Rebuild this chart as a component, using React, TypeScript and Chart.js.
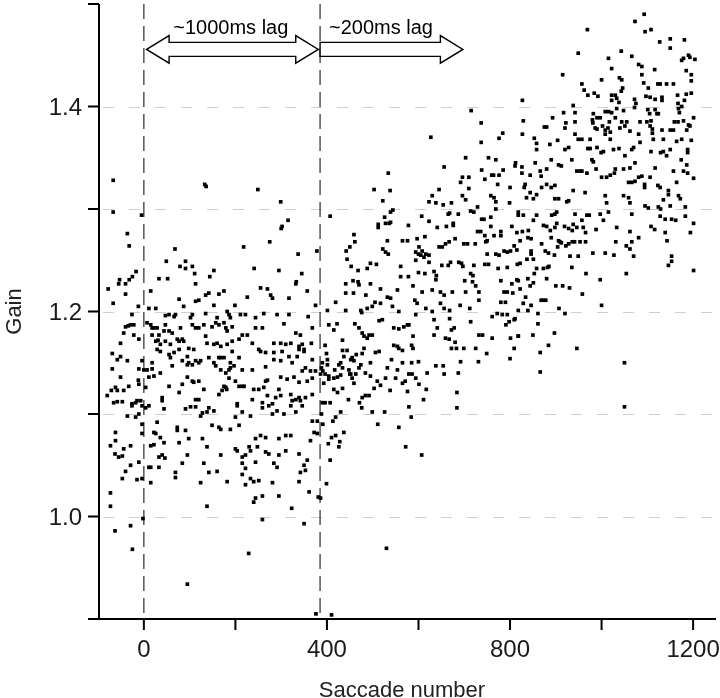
import React, { useEffect, useRef } from "react";
import { Chart, registerables } from "chart.js";

Chart.register(...registerables);

// [saccade number, gain]
const baselinePts: number[][] = [
  [-67,1.328],[-67,1.297],[-5,1.294],[-36,1.276],[-32,1.264],[-17,1.239],[-25,1.234],[-53,1.231],[-32,1.231],
  [-78,1.222],[-55,1.227],[-40,1.227],[-40,1.217],[-67,1.208],[-12,1.205],[-26,1.197],[-40,1.185],[-34,1.186],
  [-29,1.187],[-22,1.187],[-44,1.179],[-22,1.177],[-51,1.169],[-11,1.173],[-69,1.159],[-58,1.153],[-51,1.156],
  [-36,1.152],[-4,1.152],[-69,1.144],[-11,1.144],[-51,1.136],[-12,1.133],[-80,1.118],[-71,1.123],[-62,1.126],
  [-58,1.123],[-44,1.123],[-33,1.127],[-11,1.129],[-66,1.111],[-58,1.112],[-47,1.112],[-26,1.110],[-18,1.111],
  [-15,1.113],[-7,1.113],[-4,1.108],[-36,1.098],[-26,1.108],[-18,1.097],[-11,1.100],[-4,1.090],[-62,1.082],
  [-62,1.074],[-4,1.081],[-73,1.069],[-44,1.066],[-29,1.069],[-63,1.061],[-55,1.058],[-47,1.059],[-29,1.050],
  [-11,1.053],[-47,1.037],[-40,1.044],[-15,1.036],[-4,1.037],[-73,1.023],[-73,1.010],[-63,0.986],[-29,0.991],
  [-25,0.968],[-2,0.998]
];

const lag1000Pts: number[][] = [
  [133,1.324],[136,1.322],[249,1.319],[299,1.307],[315,1.289],[300,1.281],[302,1.283],[68,1.261],[218,1.263],
  [275,1.268],[337,1.256],[378,1.259],[49,1.249],[91,1.249],[79,1.244],[91,1.242],[106,1.244],[111,1.237],
  [153,1.240],[144,1.234],[33,1.232],[52,1.232],[241,1.242],[295,1.240],[345,1.237],[333,1.229],
  [15,1.220],[77,1.212],[113,1.227],[113,1.210],[120,1.211],[135,1.216],[142,1.218],[153,1.206],[164,1.217],
  [175,1.220],[226,1.214],[255,1.223],[270,1.222],[277,1.216],[281,1.213],[317,1.213],[332,1.227],[357,1.220],
  [375,1.206],[11,1.203],[26,1.203],[87,1.205],[199,1.206],
  [47,1.196],[55,1.197],[66,1.195],[69,1.197],[106,1.197],[135,1.198],[182,1.200],[186,1.197],[189,1.194],
  [211,1.197],[222,1.197],[244,1.194],[262,1.198],[291,1.197],[317,1.197],[359,1.195],[102,1.194],[160,1.194],
  [7,1.189],[15,1.187],[18,1.184],[22,1.184],[29,1.184],[47,1.187],[55,1.181],[62,1.179],[80,1.184],[106,1.187],
  [113,1.184],[120,1.184],[131,1.187],[149,1.185],[157,1.189],[164,1.187],[175,1.189],[179,1.184],[182,1.181],
  [193,1.185],[215,1.177],[226,1.177],[244,1.184],[259,1.184],[306,1.188],[332,1.179],[342,1.177],[368,1.184],
  [18,1.177],[33,1.177],[44,1.181],
  [26,1.171],[36,1.168],[47,1.171],[58,1.168],[73,1.173],[77,1.171],[84,1.173],[87,1.171],[98,1.164],[109,1.163],
  [135,1.176],[138,1.169],[153,1.168],[160,1.169],[168,1.166],[182,1.168],[193,1.171],[208,1.173],[237,1.169],
  [255,1.161],[284,1.169],[299,1.169],[310,1.168],[321,1.169],[339,1.166],[346,1.168],[350,1.163],[366,1.169],
  [31,1.172],
  [18,1.150],[29,1.163],[36,1.161],[55,1.158],[58,1.155],[66,1.160],[77,1.163],[95,1.156],[98,1.150],[113,1.152],
  [120,1.150],[142,1.155],[153,1.150],[164,1.155],[168,1.155],[175,1.155],[189,1.150],[193,1.161],[208,1.155],
  [251,1.163],[266,1.160],[284,1.160],[284,1.153],[302,1.161],[317,1.156],[335,1.156],[339,1.163],[350,1.161],
  [368,1.153],
  [0,1.143],[7,1.143],[18,1.144],[36,1.140],[62,1.147],[84,1.152],[95,1.148],[106,1.148],[124,1.152],[157,1.147],
  [168,1.143],[179,1.140],[186,1.143],[189,1.145],[197,1.147],[215,1.143],[237,1.143],[266,1.146],[299,1.152],
  [324,1.150],[346,1.142],[353,1.145],[364,1.142],[375,1.142],
  [11,1.136],[22,1.137],[55,1.127],[84,1.129],[95,1.136],[106,1.132],[109,1.131],[120,1.132],[131,1.124],
  [175,1.127],[179,1.126],[186,1.135],[200,1.132],[208,1.127],[215,1.127],[219,1.127],[266,1.132],[270,1.133],
  [299,1.136],[313,1.134],[328,1.136],[339,1.131],[357,1.132],[368,1.135],[4,1.126],[240,1.124],[251,1.124],
  [262,1.126],[295,1.124],
  [4,1.106],[11,1.108],[40,1.116],[40,1.113],[77,1.121],[113,1.114],[120,1.114],[142,1.106],[164,1.119],
  [171,1.123],[181,1.124],[204,1.110],[237,1.114],[259,1.111],[270,1.118],[281,1.110],[288,1.116],[299,1.118],
  [321,1.119],[324,1.113],[332,1.114],[339,1.116],[342,1.113],[346,1.108],[353,1.116],[368,1.119],
  [44,1.105],[91,1.105],[102,1.107],[113,1.107],[124,1.098],[128,1.101],[138,1.102],[153,1.103],[204,1.108],
  [215,1.102],[200,1.097],[233,1.098],[259,1.106],[273,1.108],[281,1.100],[291,1.103],[306,1.100],[321,1.108],
  [332,1.102],[368,1.093],[379,1.093],
  [22,1.082],[26,1.081],[29,1.092],[36,1.077],[73,1.087],[73,1.084],[91,1.084],[149,1.089],[164,1.087],
  [168,1.085],[189,1.085],[208,1.089],[244,1.076],[255,1.079],[266,1.077],[295,1.076],[310,1.079],[321,1.079],
  [372,1.082],[379,1.081],[364,1.074],
  [15,1.069],[22,1.070],[44,1.072],[77,1.072],[98,1.076],[128,1.076],[138,1.068],[168,1.060],[200,1.066],
  [204,1.064],[215,1.058],[230,1.068],[233,1.064],[248,1.068],[266,1.063],[273,1.061],[295,1.060],[310,1.064],
  [339,1.061],[33,1.058],[40,1.060],[95,1.060],[222,1.060],
  [11,1.048],[15,1.048],[33,1.048],[46,1.057],[84,1.052],[131,1.052],[142,1.043],[160,1.044],[215,1.052],
  [222,1.047],[244,1.053],[284,1.052],[291,1.048],[350,1.050],[357,1.055],[15,1.033],[69,1.043],[69,1.038],
  [124,1.033],[182,1.034],[215,1.041],[222,1.031],[233,1.037],[240,1.034],[251,1.035],[281,1.033],[339,1.034],
  [342,1.043],[353,1.045],
  [138,1.010],[240,1.014],[244,1.018],[259,1.020],[295,1.020],[323,1.008],[361,1.024],[381,1.019],[259,0.997],
  [95,0.934],[350,0.993],[229,0.964],[376,0.905]
];

const lag200Pts: number[][] = [
  [715,1.396],[737,1.384],[737,1.365],[627,1.370],[776,1.369],[784,1.374],[703,1.350],[753,1.350],[769,1.348],
  [656,1.341],[534,1.335],[738,1.338],[696,1.331],[710,1.331],[760,1.333],[764,1.333],[776,1.333],[785,1.338],
  [745,1.329],[692,1.326],[773,1.324],[503,1.319],[538,1.318],[645,1.319],[710,1.320],[800,1.321],[630,1.313],
  [696,1.313],[703,1.309],[758,1.313],[765,1.311],[522,1.308],[623,1.307],[638,1.306],[654,1.304],[672,1.306],
  [769,1.307],[799,1.306],
  [407,1.293],[544,1.299],[539,1.297],[526,1.292],[512,1.285],[512,1.282],[528,1.286],[536,1.286],[539,1.287],
  [578,1.284],[607,1.293],[623,1.288],[641,1.282],[665,1.295],[668,1.296],[661,1.283],[676,1.286],[676,1.284],
  [687,1.295],[714,1.298],[721,1.297],[729,1.302],[738,1.290],[743,1.290],[758,1.292],[769,1.300],[758,1.283],
  [729,1.278],[736,1.278],[745,1.274],[765,1.274],[780,1.278],[804,1.283],
  [459,1.275],[461,1.268],[442,1.259],[450,1.263],[565,1.269],[576,1.269],[597,1.271],[614,1.273],[532,1.269],
  [522,1.261],[528,1.258],[534,1.256],[601,1.263],[608,1.259],[616,1.256],[623,1.255],[645,1.263],[652,1.263],
  [659,1.266],[667,1.268],[699,1.266],[707,1.266],[680,1.271],[724,1.266],[747,1.268],[750,1.269],[780,1.274],
  [769,1.256],[750,1.256],[776,1.255],[787,1.259],[794,1.258],[801,1.259],[809,1.264],
  [444,1.251],[453,1.244],[468,1.240],[495,1.247],[508,1.246],[488,1.242],[561,1.244],[594,1.258],[600,1.256],
  [605,1.255],[594,1.250],[612,1.253],[623,1.248],[600,1.238],[614,1.237],[634,1.239],[639,1.235],[651,1.245],
  [665,1.245],[638,1.231],[670,1.248],[688,1.248],[694,1.247],[697,1.244],[721,1.245],[714,1.237],[719,1.235],
  [745,1.246],[753,1.246],[774,1.242],[794,1.243],
  [441,1.227],[457,1.230],[468,1.229],[470,1.226],[458,1.218],[441,1.218],[485,1.216],[495,1.227],[517,1.222],
  [554,1.221],[561,1.234],[578,1.234],[588,1.225],[608,1.219],[630,1.221],[648,1.219],[656,1.216],[674,1.219],
  [701,1.230],[718,1.229],[703,1.219],[732,1.219],[725,1.225],[780,1.230],[804,1.227],[787,1.219],[794,1.219],
  [806,1.218],[780,1.209],[790,1.209],[794,1.197],[798,1.190],
  [419,1.209],[401,1.201],[441,1.201],[474,1.201],[476,1.199],[488,1.203],[499,1.205],[505,1.209],[517,1.208],
  [532,1.214],[539,1.213],[543,1.205],[557,1.200],[576,1.187],[592,1.211],[597,1.208],[594,1.197],[616,1.203],
  [630,1.200],[648,1.208],[656,1.203],[668,1.201],[668,1.193],[691,1.206],[712,1.203],[732,1.211],[761,1.195],
  [772,1.198],[783,1.197],[809,1.192],
  [404,1.187],[415,1.182],[422,1.188],[461,1.188],[470,1.184],[477,1.179],[481,1.176],[488,1.174],[492,1.177],
  [499,1.177],[514,1.191],[521,1.192],[546,1.184],[557,1.183],[568,1.185],[579,1.187],[634,1.192],[641,1.184],
  [659,1.174],[667,1.173],[672,1.182],[678,1.184],[732,1.177],[740,1.177],[761,1.174],[791,1.187],[801,1.174],
  [434,1.172],[634,1.177],[714,1.190],[588,1.176],[680,1.170],
  [396,1.167],[434,1.162],[444,1.162],[399,1.159],[437,1.156],[452,1.153],[455,1.155],[459,1.152],[464,1.158],
  [477,1.159],[481,1.164],[506,1.160],[514,1.161],[546,1.167],[554,1.166],[557,1.164],[565,1.162],[585,1.167],
  [588,1.164],[672,1.164],[683,1.164],[699,1.164],[725,1.164],[749,1.159],[809,1.164],[800,1.154],
  [390,1.150],[388,1.145],[391,1.142],[386,1.139],[401,1.153],[401,1.148],[417,1.143],[426,1.148],[430,1.150],
  [434,1.145],[448,1.143],[450,1.139],[470,1.145],[474,1.148],[495,1.150],[541,1.153],[565,1.150],[585,1.150],
  [600,1.151],[532,1.145],[554,1.143],[638,1.147],[654,1.147],[692,1.151],[731,1.151],
  [396,1.139],[404,1.137],[415,1.135],[423,1.136],[430,1.138],[452,1.139],[455,1.135],[463,1.139],[484,1.140],
  [495,1.137],[528,1.135],[550,1.135],[565,1.130],[579,1.139],[586,1.139],[594,1.135],[619,1.140],[656,1.139],
  [687,1.140],[393,1.130],[404,1.134],[415,1.124],[423,1.121],[434,1.125],[459,1.130],[510,1.132],[517,1.128],
  [503,1.125],[538,1.123],[571,1.132],[576,1.122],[601,1.129],[617,1.124],[684,1.121],
  [447,1.114],[477,1.116],[484,1.118],[492,1.118],[471,1.111],[476,1.106],[390,1.111],[396,1.111],[407,1.111],
  [611,1.114],[579,1.107],[584,1.097],[684,1.106],[430,1.102],[499,1.102],[526,1.102],[388,1.100],[391,1.090],
  [419,1.097],[413,1.093],[511,1.090],[437,1.082],[557,1.087],[410,1.077],[419,1.079],[403,1.071],[428,1.073],
  [426,1.068],[572,1.068],[607,1.060],[407,1.055],[399,1.032],[386,1.018],[530,0.969],[410,0.904]
];

const lateAdaptPts: number[][] = [
  [1093,1.490],[1073,1.483],[969,1.475],[1095,1.473],[1108,1.475],[1127,1.463],[1150,1.466],[1181,1.465],
  [1150,1.457],[949,1.452],[1043,1.454],[1015,1.447],[1066,1.449],[1081,1.441],[1088,1.439],[1175,1.445],
  [1179,1.447],[1190,1.450],[1193,1.448],[1204,1.446],[1022,1.437],[1116,1.436],[915,1.431],[1000,1.426],
  [1039,1.428],[1044,1.426],[1088,1.431],[1092,1.423],[1102,1.418],[1123,1.422],[1128,1.422],[1142,1.422],
  [1157,1.422],[1185,1.435],[1196,1.431],[1196,1.425],[957,1.422],[962,1.416],[970,1.411],[984,1.413],
  [992,1.410],[1022,1.411],[1030,1.411],[1043,1.415],[1046,1.418],[1022,1.406],[1033,1.408],[1038,1.404],
  [1072,1.407],[1075,1.403],[1097,1.410],[1106,1.409],[1117,1.407],[1132,1.409],[1132,1.406],[1166,1.411],
  [1167,1.403],[1181,1.406],[1185,1.412],[1196,1.413],[827,1.406],
  [938,1.401],[942,1.394],[1008,1.395],[1015,1.395],[1022,1.394],[1033,1.398],[982,1.393],[990,1.389],
  [1048,1.396],[1101,1.397],[1117,1.397],[1105,1.393],[1121,1.393],[1124,1.393],[1072,1.399],[1168,1.398],
  [1175,1.400],[1170,1.394],[1201,1.389],[829,1.386],[893,1.389],[917,1.394],[922,1.384],[942,1.385],
  [980,1.387],[981,1.384],[997,1.389],[1002,1.381],[1017,1.385],[1030,1.389],[1044,1.385],[1055,1.385],
  [1084,1.385],[1099,1.385],[1108,1.386],[1159,1.385],[1167,1.385],[1179,1.386],[1190,1.382],
  [875,1.380],[880,1.380],[920,1.379],[986,1.379],[990,1.378],[1008,1.377],[1014,1.379],[1040,1.379],
  [1051,1.381],[1106,1.381],[1111,1.378],[1132,1.377],[1150,1.377],[1157,1.377],[1186,1.377],[1193,1.381],
  [827,1.373],[942,1.373],[949,1.368],[957,1.368],[975,1.368],[1008,1.373],[1019,1.375],[1019,1.368],
  [1062,1.376],[1081,1.373],[1111,1.374],[1113,1.368],[1135,1.368],[1164,1.366],[1175,1.368],[1196,1.367],
  [853,1.369],[858,1.364],[858,1.358],[887,1.363],[904,1.367],[920,1.358],[928,1.360],[970,1.359],[975,1.359],
  [990,1.360],[999,1.355],[1004,1.356],[1026,1.358],[1038,1.359],[1051,1.352],[1066,1.358],[1070,1.360],
  [1084,1.365],[1108,1.356],[1129,1.355],[1135,1.356],[1150,1.358],[1142,1.352],[1174,1.348],[1188,1.358],
  [1188,1.355],
  [811,1.342],[826,1.341],[826,1.335],[844,1.333],[855,1.345],[866,1.337],[868,1.332],[880,1.339],[890,1.348],
  [906,1.343],[912,1.342],[935,1.348],[946,1.337],[953,1.337],[957,1.337],[968,1.335],[979,1.348],[982,1.346],
  [988,1.339],[1000,1.331],[1011,1.331],[1019,1.333],[1030,1.339],[1028,1.335],[1048,1.339],[1062,1.340],
  [1073,1.345],[1059,1.326],[1066,1.326],[1073,1.327],[1081,1.331],[1088,1.332],[1094,1.324],[1094,1.321],
  [1106,1.331],[1117,1.340],[1123,1.323],[1128,1.321],[1157,1.337],[1179,1.337],[1186,1.343],[1188,1.335],
  [1201,1.330],[1164,1.326],[812,1.345],
  [833,1.324],[831,1.321],[844,1.316],[858,1.314],[869,1.321],[880,1.324],[890,1.321],[898,1.323],[836,1.311],
  [851,1.310],[898,1.310],[906,1.310],[924,1.307],[928,1.308],[938,1.318],[964,1.316],[1008,1.313],[1011,1.306],
  [1048,1.313],[1059,1.311],[1062,1.306],[1095,1.303],[1102,1.301],[1124,1.302],[1129,1.300],[1135,1.309],
  [1146,1.318],[1146,1.314],[1150,1.303],[1168,1.313],[1172,1.310],[1183,1.302],[818,1.297],[1128,1.293],
  [1183,1.293],[957,1.289],
  [818,1.294],[829,1.294],[858,1.294],[891,1.294],[898,1.295],[902,1.297],[942,1.295],[968,1.294],[973,1.294],
  [997,1.295],[1015,1.297],[1066,1.295],[1004,1.289],[851,1.289],[873,1.284],[880,1.283],[902,1.286],[898,1.282],
  [888,1.279],[919,1.283],[928,1.281],[936,1.279],[938,1.285],[946,1.282],[960,1.282],[965,1.277],[988,1.280],
  [1033,1.282],[1062,1.278],[1081,1.272],[1108,1.283],[1116,1.280],[1139,1.290],[1153,1.290],[1162,1.289],
  [1201,1.286],[1139,1.277],[1143,1.269],[1194,1.277],[815,1.277],[827,1.278],[840,1.279],[839,1.272],
  [846,1.271],[822,1.269],[890,1.272],[869,1.266],[906,1.269],[909,1.268],[912,1.267],[904,1.263],[922,1.264],
  [928,1.266],[936,1.268],[941,1.268],[953,1.268],[965,1.268],[1031,1.268],[1054,1.264],[1066,1.268],
  [1062,1.261],[1070,1.254],[815,1.260],[846,1.259],[846,1.256],[877,1.259],[884,1.257],[897,1.255],[931,1.254],
  [949,1.254],[981,1.257],[1008,1.257],[1027,1.255],[1153,1.254],[1153,1.249],[1146,1.245],[1201,1.240],
  [822,1.247],[837,1.251],[851,1.251],[858,1.242],[873,1.242],[882,1.243],[885,1.244],[935,1.243],[966,1.237],
  [1054,1.237],[853,1.237],[815,1.231],[839,1.232],[851,1.228],[844,1.225],[880,1.232],[822,1.222],[900,1.225],
  [915,1.225],[930,1.223],[997,1.231],[958,1.217],[834,1.214],[829,1.208],[846,1.206],[868,1.211],[873,1.211],
  [878,1.211],[818,1.201],[839,1.201],[907,1.203],[920,1.198],[1000,1.206],[861,1.198],[811,1.193],[861,1.188],
  [818,1.176],[850,1.177],[897,1.179],[884,1.167],[946,1.164],[866,1.160],[866,1.141],[1050,1.150],[1050,1.107],
  [816,1.246],[818,1.230],[818,1.176]
];

// axes
const xMin = -98;
const xMax = 1250;
const yMin = 0.9;
const yMax = 1.5;
const xTickValues = [0, 200, 400, 600, 800, 1000, 1200];
const xLabelValues = [0, 400, 800, 1200];
const yTickValues = [0.9, 1.0, 1.1, 1.2, 1.3, 1.4, 1.5];
const yLabelValues = [1.0, 1.2, 1.4];
const yGridValues = [1.0, 1.1, 1.2, 1.3, 1.4];

// annotations
const lagBoundaries = [0, 385];
const arrowSpans = [[6, 381], [385, 697]];
const arrowDouble = [true, false];
const arrowLabels = ["~1000ms lag", "~200ms lag"];
const arrowLabelX = [190, 518];
const arrowY = 1.4557;
const arrowLabelY = 1.471;
const xTitle = "Saccade number";
const yTitle = "Gain";

const FONT = "'Liberation Sans', Arial, sans-serif";

const decorPlugin = {
  id: "decor",
  beforeDatasetsDraw(chart: any) {
    const { ctx, chartArea } = chart;
    const xs = chart.scales.x;
    const ys = chart.scales.y;
    ctx.save();
    ctx.strokeStyle = "#cfcfcf";
    ctx.lineWidth = 1;
    ctx.setLineDash([11, 15]);
    yGridValues.forEach((v) => {
      const y = Math.round(ys.getPixelForValue(v)) + 0.5;
      ctx.beginPath();
      ctx.moveTo(chartArea.left + 4, y);
      ctx.lineTo(chartArea.right, y);
      ctx.stroke();
    });
    ctx.strokeStyle = "#3a3a3a";
    ctx.lineWidth = 1.3;
    ctx.setLineDash([15, 7]);
    lagBoundaries.forEach((v) => {
      const x = xs.getPixelForValue(v);
      ctx.beginPath();
      ctx.moveTo(x, chartArea.top);
      ctx.lineTo(x, chartArea.bottom);
      ctx.stroke();
    });
    ctx.restore();
  },
  afterDatasetsDraw(chart: any) {
    const { ctx, chartArea } = chart;
    const xs = chart.scales.x;
    const ys = chart.scales.y;
    ctx.save();
    ctx.setLineDash([]);
    ctx.strokeStyle = "#000";
    ctx.lineWidth = 2;
    ctx.beginPath();
    ctx.moveTo(chartArea.left, chartArea.top);
    ctx.lineTo(chartArea.left, chartArea.bottom);
    ctx.moveTo(chartArea.left - 11, chartArea.bottom);
    ctx.lineTo(chartArea.right, chartArea.bottom);
    ctx.stroke();
    ctx.beginPath();
    yTickValues.forEach((v) => {
      const y = ys.getPixelForValue(v);
      ctx.moveTo(chartArea.left - 11, y);
      ctx.lineTo(chartArea.left, y);
    });
    xTickValues.forEach((v) => {
      const x = xs.getPixelForValue(v);
      ctx.moveTo(x, chartArea.bottom);
      ctx.lineTo(x, chartArea.bottom + 11);
    });
    ctx.stroke();

    const yc = ys.getPixelForValue(arrowY);
    const h = 22.5;
    const s = 7;
    const H = 13.8;
    ctx.fillStyle = "#fff";
    ctx.strokeStyle = "#000";
    ctx.lineWidth = 1.4;
    ctx.lineJoin = "miter";
    arrowSpans.forEach((span, i) => {
      const x0 = xs.getPixelForValue(span[0]);
      const x1 = xs.getPixelForValue(span[1]);
      ctx.beginPath();
      if (arrowDouble[i]) {
        ctx.moveTo(x0, yc);
        ctx.lineTo(x0 + h, yc - H);
        ctx.lineTo(x0 + h, yc - s);
      } else {
        ctx.moveTo(x0, yc - s);
      }
      ctx.lineTo(x1 - h, yc - s);
      ctx.lineTo(x1 - h, yc - H);
      ctx.lineTo(x1, yc);
      ctx.lineTo(x1 - h, yc + H);
      ctx.lineTo(x1 - h, yc + s);
      if (arrowDouble[i]) {
        ctx.lineTo(x0 + h, yc + s);
        ctx.lineTo(x0 + h, yc + H);
      } else {
        ctx.lineTo(x0, yc + s);
      }
      ctx.closePath();
      ctx.fill();
      ctx.stroke();
    });
    ctx.fillStyle = "#000";
    ctx.font = `20px ${FONT}`;
    ctx.textAlign = "center";
    ctx.textBaseline = "alphabetic";
    arrowLabels.forEach((t, i) => {
      ctx.fillText(t, xs.getPixelForValue(arrowLabelX[i]), ys.getPixelForValue(arrowLabelY));
    });

    ctx.font = `22px ${FONT}`;
    ctx.fillStyle = "#222";
    ctx.fillText(xTitle, (chartArea.left - 11 + chartArea.right) / 2, 697);
    ctx.save();
    ctx.translate(21, (chartArea.top + chartArea.bottom) / 2);
    ctx.rotate(-Math.PI / 2);
    ctx.fillText(yTitle, 0, 0);
    ctx.restore();
    ctx.restore();
  },
};

export default function App() {
  const ref = useRef<HTMLCanvasElement | null>(null);
  useEffect(() => {
    document.body.style.margin = "0";
    const toXY = (arr: number[][]) => arr.map((p) => ({ x: p[0], y: p[1] }));
    const style = {
      pointStyle: "rect" as const,
      pointRadius: 2.6,
      pointBorderWidth: 0,
      pointBackgroundColor: "#000",
      pointBorderColor: "#000",
      showLine: false,
    };
    const chart = new Chart(ref.current as HTMLCanvasElement, {
      type: "scatter",
      data: {
        datasets: [
          { label: "baseline", data: toXY(baselinePts), ...style },
          { label: "~1000ms lag", data: toXY(lag1000Pts), ...style },
          { label: "~200ms lag", data: toXY(lag200Pts), ...style },
          { label: "late", data: toXY(lateAdaptPts), ...style },
        ],
      },
      options: {
        animation: false,
        responsive: false,
        devicePixelRatio: 1,
        layout: { padding: { top: 0, right: 4, left: 0, bottom: 0 } },
        plugins: { legend: { display: false }, tooltip: { enabled: false } },
        scales: {
          x: {
            type: "linear",
            min: xMin,
            max: xMax,
            afterFit: (scale: any) => {
              scale.height = 79;
              scale.paddingLeft = 0;
              scale.paddingRight = 0;
            },
            grid: { display: false, drawTicks: false },
            border: { display: false },
            ticks: {
              stepSize: 200,
              includeBounds: false,
              autoSkip: false,
              maxRotation: 0,
              padding: 17,
              color: "#1a1a1a",
              font: { family: FONT, size: 24 },
              callback: (v: any) => {
                const n = Math.round(Number(v));
                return xLabelValues.includes(n) && Math.abs(Number(v) - n) < 1e-6 ? String(n) : "";
              },
            },
          },
          y: {
            type: "linear",
            min: yMin,
            max: yMax,
            afterFit: (scale: any) => {
              scale.width = 99;
              scale.paddingTop = 0;
              scale.paddingBottom = 0;
            },
            grid: { display: false, drawTicks: false },
            border: { display: false },
            ticks: {
              stepSize: 0.1,
              includeBounds: false,
              autoSkip: false,
              padding: 17,
              labelOffset: 2,
              color: "#1a1a1a",
              font: { family: FONT, size: 24 },
              callback: (v: any) => {
                const n = Math.round(Number(v) * 10) / 10;
                return yLabelValues.some((l) => Math.abs(l - n) < 1e-6) && Math.abs(Number(v) - n) < 1e-6 ? n.toFixed(1) : "";
              },
            },
          },
        },
      },
      plugins: [decorPlugin],
    });
    return () => chart.destroy();
  }, []);
  return <canvas ref={ref} width={720} height={698} style={{ display: "block" }} />;
}
